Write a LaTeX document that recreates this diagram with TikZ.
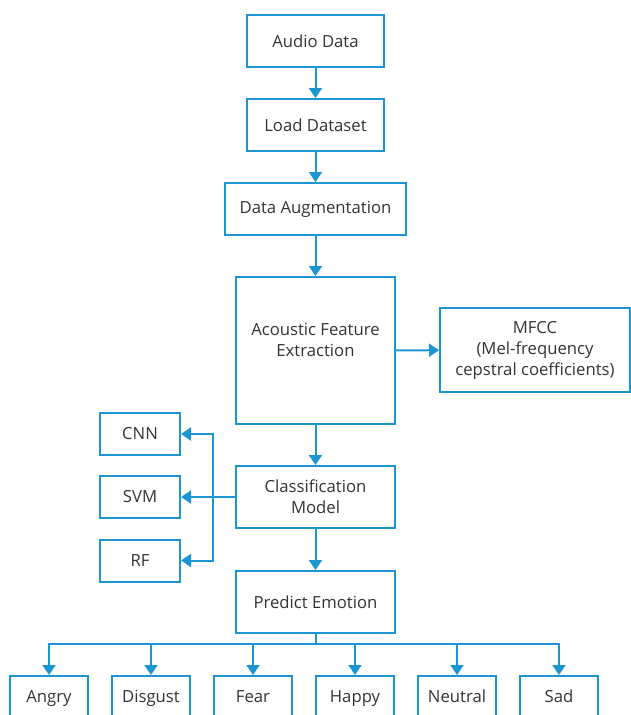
\documentclass[tikz,border=0pt]{standalone}
\usepackage{fontspec}
\setmainfont{Open Sans}
\usetikzlibrary{arrows.meta}
\definecolor{flowblue}{RGB}{28,150,210}
\definecolor{flowtext}{RGB}{51,51,51}
\begin{document}
\begin{tikzpicture}[x=1pt, y=-1pt,
  box/.style={draw=flowblue, line width=2pt, align=center, text=flowtext,
    inner sep=0pt, font=\fontsize{16.7}{21}\selectfont},
  emo/.style={box, minimum width=78, minimum height=44, text height=12pt, text depth=4pt},
  arr/.style={draw=flowblue, line width=2pt, -{Triangle[width=13pt,length=10pt]}},
  line/.style={draw=flowblue, line width=2pt}]
\useasboundingbox (0,0) rectangle (630,715);
% main column
\node [box, minimum width=137, minimum height=52] (audio) at (315.5,41) {Audio Data};
\node [box, minimum width=137, minimum height=52] (load) at (315.5,125) {Load Dataset};
\node [box, minimum width=181, minimum height=52] (aug) at (315.5,209) {Data Augmentation};
\node [box, minimum width=159, minimum height=147] (feat) at (315.5,350.5) {Acoustic Feature\\Extraction\\\mbox{}};
\node [box, minimum width=190, minimum height=84] (mfcc) at (535,350) {MFCC\\(Mel-frequency\\cepstral coefficients)};
\node [box, minimum width=159, minimum height=62] (model) at (315.5,497) {Classification\\Model};
\node [box, minimum width=159, minimum height=62] (predict) at (315.5,602) {Predict Emotion};
% classifiers
\node [box, minimum width=80, minimum height=42] (cnn) at (140,434) {CNN};
\node [box, minimum width=80, minimum height=42] (svm) at (140,497) {SVM};
\node [box, minimum width=80, minimum height=42] (rf) at (140,560.5) {RF};
% emotions
\node [emo] (angry) at (49,698) {Angry};
\node [emo] (disgust) at (151,698) {Disgust};
\node [emo] (fear) at (253,698) {Fear};
\node [emo] (happy) at (355,698) {Happy};
\node [emo] (neutral) at (457,698) {Neutral};
\node [emo] (sad) at (559,698) {Sad};
\coordinate (split) at (213,497);
\coordinate (fan) at (315.5,644);
% arrows
\draw [arr] (audio) -- (load);
\draw [arr] (load) -- (aug);
\draw [arr] (aug) -- (feat);
\draw [arr] (feat) -- (mfcc);
\draw [arr] (feat) -- (model);
\draw [arr] (model) -- (predict);
\draw [arr] (model) -- (svm);
\draw [arr] (split) |- (cnn);
\draw [arr] (split) |- (rf);
\draw [line] (predict) -- (fan);
\foreach \e in {angry, disgust, fear, happy, neutral, sad}
  \draw [arr] (fan) -| (\e.north);
\end{tikzpicture}
\end{document}
